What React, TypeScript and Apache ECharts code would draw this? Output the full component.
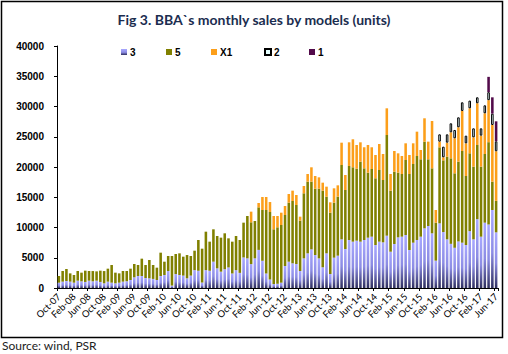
import { useEffect, useRef } from 'react';
import * as echarts from 'echarts';

const monthNames = ['Jan', 'Feb', 'Mar', 'Apr', 'May', 'Jun', 'Jul', 'Aug', 'Sep', 'Oct', 'Nov', 'Dec'];
const monthCount = 117; // Oct-07 .. Jun-17
const categories: string[] = [];
for (let i = 0; i < monthCount; i++) {
  const m = (9 + i) % 12;
  const y = 7 + Math.floor((9 + i) / 12);
  categories.push(`${monthNames[m]}-${String(y).padStart(2, '0')}`);
}

const yTicks = { min: 0, max: 40000, interval: 5000 };

const s3Values = [
  880, 1050, 1160, 1050, 880, 1210, 1100, 1000, 1210, 1100,
  1210, 1000, 770, 1050, 880, 770, 880, 1050, 1100, 1320,
  1760, 1980, 1980, 1650, 1600, 1500, 1320, 1980, 2150, 2800,
  400, 2300, 2150, 2050, 1600, 2050, 2950, 2850, 900, 2950,
  2850, 4350, 3250, 2700, 3100, 3400, 2400, 2950, 2500, 5050,
  4900, 3950, 4900, 6300, 4500, 2400, 1400, 650, 700, 880,
  3640, 4350, 4080, 3970, 2810, 4900, 5730, 6390, 5455, 4900,
  3420, 5730, 2310, 5010, 5345, 8045, 6450, 7935, 7660, 7825,
  7660, 7935, 8320, 8485, 7110, 7660, 7550, 8650, 6000, 7275,
  8375, 8485, 8760, 6280, 7490, 7935, 8485, 9865, 10250, 9040,
  4520, 10690, 9250, 8045, 7300, 6650, 7700, 7490, 7110, 9400,
  8045, 11380, 8485, 10800, 10500, 12895, 9200,
];

const s5Values = [
  1100, 1760, 1980, 1370, 1270, 1600, 1435, 1865, 1600, 1700,
  1540, 1865, 2030, 2145, 2920, 1765, 1540, 1760, 1710, 1875,
  2210, 1820, 2870, 2150, 3030, 2300, 2040, 3860, 2200, 2490,
  4890, 3320, 3580, 3130, 3850, 3240, 3220, 5085, 5600, 6360,
  4810, 5350, 5350, 5620, 5940, 4810, 5260, 5650, 5435, 5750,
  7000, 6910, 6175, 7030, 8390, 10490, 11160, 9050, 9330, 9535,
  8425, 9755, 10300, 9750, 8320, 10750, 11850, 11190, 10965, 11520,
  12670, 9370, 10140, 9095, 9755, 12285, 9750, 12235, 12290, 11895,
  13220, 11845, 10740, 11185, 11020, 11845, 10300, 16640, 10090, 11955,
  10690, 10360, 12400, 12565, 13010, 13885, 12785, 14325, 11020, 10740,
  6280, 12560, 11850, 13665, 14130, 12305, 13180, 15155, 11400, 12860,
  12015, 12260, 11575, 11350, 13600, 4685, 5200,
];

// X1 starts at month 52
const x1Values = [
  ...Array(51).fill(null),
  1760, null, 720, 2150, 2150, 1650, 2200, 1870, 2035,
  1490, 1435, 1710, 1650, 660, 1210, 1265, 2370, 2090, 1870,
  1320, 1650, 1710, 2370, 1870, 3690, 2480, 3910, 4630, 3920,
  3200, 3480, 4580, 3590, 3855, 4295, 4300, 4410, 2755, 3415,
  3195, 2975, 2755, 3140, 3415, 4020, 1540, 3860, 2920, 7820,
  2095, 940, 500, 2310, 4300, 5785, 5680, 6615, 5400, 7440,
  4840, 6890, 5120, 6725, 6945, 9365, 8200,
];

// "2" starts at month 102
const s2Values = [
  ...Array(101).fill(null),
  1210, 1760, 1380, 1490, 1380, 1650, 1430, 1270, 1270, 1490,
  990, 1210, 1320, 1320, 1870, 1650,
];

// "1" starts at month 115
const s1Values = [...Array(114).fill(null), 2535, 2700, 3300];

const seriesNames = ['3', '5', 'X1', '2', '1'];
const legendLeft = [121, 166, 211, 264, 309];

const purpleGradient = new echarts.graphic.LinearGradient(0, 0, 0, 1, [
  { offset: 0, color: '#a8a8ff' },
  { offset: 0.55, color: '#8c8ce4' },
  { offset: 1, color: '#2e2e5e' },
]);

export default function App() {
  const ref = useRef<HTMLDivElement>(null);
  useEffect(() => {
    if (!ref.current) return;
    const chart = echarts.init(ref.current, null, { renderer: 'svg' });
    const barBase = { type: 'bar', stack: 'total', barCategoryGap: '32%' };
    chart.setOption({
      animation: false,
      backgroundColor: '#ffffff',
      title: {
        text: 'Fig 3. BBA`s monthly sales by models (units)',
        left: 'center',
        top: 7,
        textStyle: { fontFamily: 'Lato', fontWeight: 'bold', fontSize: 14, color: '#1b2d4f' },
      },
      legend: seriesNames.map((n, i) => ({
        data: [n],
        left: legendLeft[i],
        top: 47,
        padding: 0,
        itemWidth: 6,
        itemHeight: 6,
        itemGap: 0,
        icon: 'rect',
        textStyle: { fontFamily: 'Liberation Sans', fontWeight: 'bold', fontSize: 10, color: '#000', padding: [0, 0, 0, -2] },
      })),
      grid: { left: 57, top: 46, width: 441, height: 242 },
      xAxis: {
        type: 'category',
        data: categories,
        axisLine: { lineStyle: { color: '#000', width: 1 } },
        axisTick: { show: true, interval: 3, length: 3, lineStyle: { color: '#000' } },
        axisLabel: {
          interval: 3,
          rotate: 45,
          fontFamily: 'Lato',
          fontSize: 9.5,
          color: '#000',
          margin: 7,
        },
      },
      yAxis: {
        type: 'value',
        min: yTicks.min,
        max: yTicks.max,
        interval: yTicks.interval,
        splitLine: { show: false },
        axisLine: { show: true, lineStyle: { color: '#000', width: 1 } },
        axisTick: { show: true, length: 3, lineStyle: { color: '#000' } },
        axisLabel: {
          fontFamily: 'Liberation Sans',
          fontWeight: 'bold',
          fontSize: 10,
          color: '#000',
          margin: 13,
          formatter: (v: number) => String(v),
        },
      },
      series: [
        { ...barBase, name: '3', data: s3Values, itemStyle: { color: purpleGradient } },
        { ...barBase, name: '5', data: s5Values, itemStyle: { color: '#808000' } },
        { ...barBase, name: 'X1', data: x1Values, itemStyle: { color: '#fc9f1a' } },
        { ...barBase, name: '2', data: s2Values, itemStyle: { color: '#e6ffff', borderColor: '#000', borderWidth: 1 } },
        { ...barBase, name: '1', data: s1Values, itemStyle: { color: '#520a4a' } },
      ],
      graphic: [
        {
          type: 'rect',
          shape: { x: 1.5, y: 1.5, width: 501, height: 336 },
          style: { fill: 'none', stroke: '#000', lineWidth: 1.5 },
          silent: true,
        },
        {
          type: 'text',
          left: 2,
          top: 339,
          style: { text: 'Source: wind, PSR', fontFamily: 'Lato', fontSize: 12, fill: '#222' },
        },
      ],
    });
    return () => chart.dispose();
  }, []);
  return (
    <div style={{ position: 'fixed', left: 0, top: 0, width: 508, height: 354, background: '#fff' }}>
      <div ref={ref} style={{ width: 508, height: 354 }} />
    </div>
  );
}
